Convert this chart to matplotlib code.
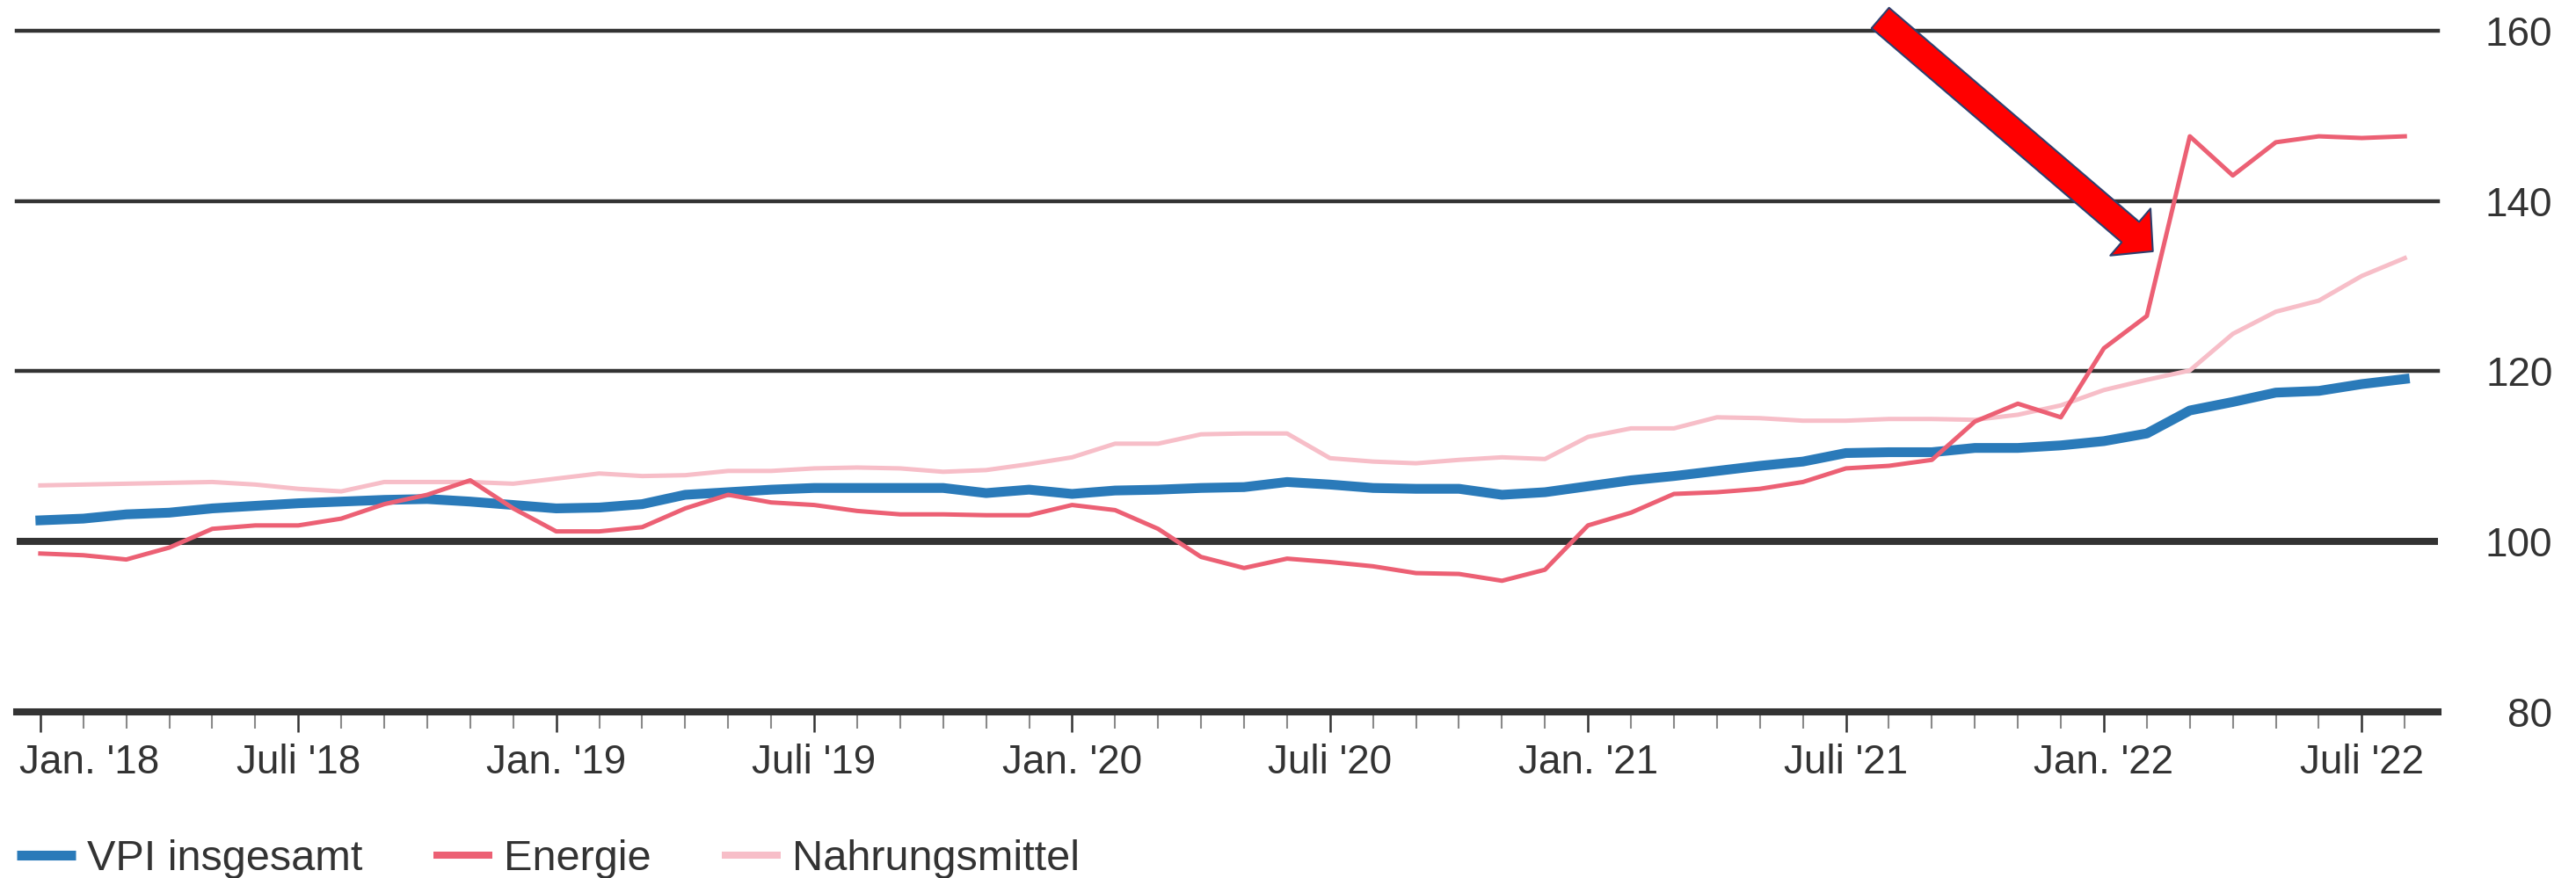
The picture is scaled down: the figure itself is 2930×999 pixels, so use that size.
import numpy as np
import matplotlib.pyplot as plt
from matplotlib.lines import Line2D
import matplotlib.transforms as mtransforms

plt.rcParams['font.family'] = ['Liberation Sans', 'DejaVu Sans']

# Monatswerte Jan. 2018 bis Aug. 2022 (Index 2015 = 100)
months = np.arange(56)
vpi = [102.5, 102.7, 103.2, 103.4, 103.9, 104.2, 104.5, 104.7, 104.9, 105.0,
       104.7, 104.3, 103.9, 104.0, 104.4, 105.5, 105.8, 106.1, 106.3, 106.3,
       106.3, 106.3, 105.7, 106.1, 105.6, 106.0, 106.1, 106.3, 106.4, 107.0,
       106.7, 106.3, 106.2, 106.2, 105.5, 105.8, 106.5, 107.2, 107.7, 108.3,
       108.9, 109.4, 110.4, 110.5, 110.5, 111.0, 111.0, 111.3, 111.8, 112.7,
       115.4, 116.4, 117.5, 117.7, 118.5, 119.1]
energie = [98.6, 98.4, 97.9, 99.3, 101.5, 101.9, 101.9, 102.7, 104.4, 105.5,
           107.2, 103.9, 101.2, 101.2, 101.7, 103.9, 105.5, 104.6, 104.3, 103.6,
           103.2, 103.2, 103.1, 103.1, 104.3, 103.7, 101.5, 98.2, 96.9, 98.0,
           97.6, 97.1, 96.3, 96.2, 95.4, 96.7, 101.9, 103.4, 105.6, 105.8,
           106.2, 107.0, 108.6, 108.9, 109.6, 114.1, 116.2, 114.6, 122.7, 126.5,
           147.6, 143.0, 146.9, 147.6, 147.4, 147.6]
nahrung = [106.6, 106.7, 106.8, 106.9, 107.0, 106.7, 106.2, 105.9, 107.0, 107.0,
           107.0, 106.8, 107.4, 108.0, 107.7, 107.8, 108.3, 108.3, 108.6, 108.7,
           108.6, 108.2, 108.4, 109.1, 109.9, 111.5, 111.5, 112.6, 112.7, 112.7,
           109.8, 109.4, 109.2, 109.6, 109.9, 109.7, 112.3, 113.3, 113.3, 114.6,
           114.5, 114.2, 114.2, 114.4, 114.4, 114.3, 114.9, 116.0, 117.8, 119.0,
           120.1, 124.4, 127.0, 128.3, 131.2, 133.3]

series_names = ['VPI insgesamt', 'Energie', 'Nahrungsmittel']
tick_pos = list(range(0, 56, 6))
tick_labels = ["Jan. '18", "Juli '18", "Jan. '19", "Juli '19", "Jan. '20",
               "Juli '20", "Jan. '21", "Juli '21", "Jan. '22", "Juli '22"]
y_ticks = [80, 100, 120, 140, 160]

blue = '#2a7ab9'
red = '#ec6074'
pink = '#f7bec8'
dark = '#333333'

fig = plt.figure(figsize=(29.3, 9.99), dpi=100)
ax = fig.add_axes([0.00648, 0.18919, 0.9399, 0.7758])

# Gitterlinien
for y in [120, 140, 160]:
    ax.axhline(y, color=dark, lw=3.2, zorder=1, clip_on=False)
ax.axhline(100, color=dark, lw=5.8, zorder=1)

ax.plot(months, vpi, color=blue, lw=8, zorder=3)
ax.plot(months, nahrung, color=pink, lw=3.6, zorder=4)
ax.plot(months, energie, color=red, lw=3.6, zorder=5)

ax.set_xlim(-0.55, 55.77)
ax.set_ylim(80, 160)

for s in ['top', 'left', 'right']:
    ax.spines[s].set_visible(False)
ax.spines['bottom'].set_color(dark)
ax.spines['bottom'].set_linewidth(5.8)
ax.spines['bottom'].set_zorder(2)

ax.set_xticks(tick_pos)
ax.set_xticklabels(tick_labels)
ax.set_xticks(months, minor=True)
ax.tick_params(axis='x', which='major', length=16.6, width=1.8, color=dark,
               labelsize=33, labelcolor=dark, pad=9)
ax.tick_params(axis='x', which='minor', length=13.7, width=1.5, color='#8a8a8a')

first = ax.get_xticklabels()[0]
first.set_horizontalalignment('left')
first.set_transform(first.get_transform() +
                    mtransforms.ScaledTranslation(-0.24, 0, fig.dpi_scale_trans))

ax.yaxis.tick_right()
ax.set_yticks(y_ticks)
ax.set_yticklabels([str(v) for v in y_ticks])
ax.tick_params(axis='y', length=0, labelsize=33, labelcolor=dark, pad=94)
for lab in ax.get_yticklabels():
    lab.set_horizontalalignment('right')

# roter Pfeil
ax.annotate('', xy=(49.14, 134.1), xytext=(42.8, 161.5),
            arrowprops=dict(arrowstyle='simple,head_length=1.1,head_width=2.3,tail_width=1.0',
                            mutation_scale=22, fc='#ff0000', ec='#2d3f6e', lw=1.5,
                            shrinkA=0, shrinkB=0),
            annotation_clip=False, zorder=6)

handles = [Line2D([], [], color=blue, lw=8, solid_capstyle='butt'),
           Line2D([], [], color=red, lw=5.8, solid_capstyle='butt'),
           Line2D([], [], color=pink, lw=5.8, solid_capstyle='butt')]
fig.legend(handles, series_names, loc='center left', bbox_to_anchor=(0.0065, 0.022),
           ncol=3, frameon=False, fontsize=35, handlelength=1.38, handletextpad=0.27,
           columnspacing=1.65, borderpad=0, borderaxespad=0, labelcolor=dark)

fig.savefig('out.png', dpi=100)
